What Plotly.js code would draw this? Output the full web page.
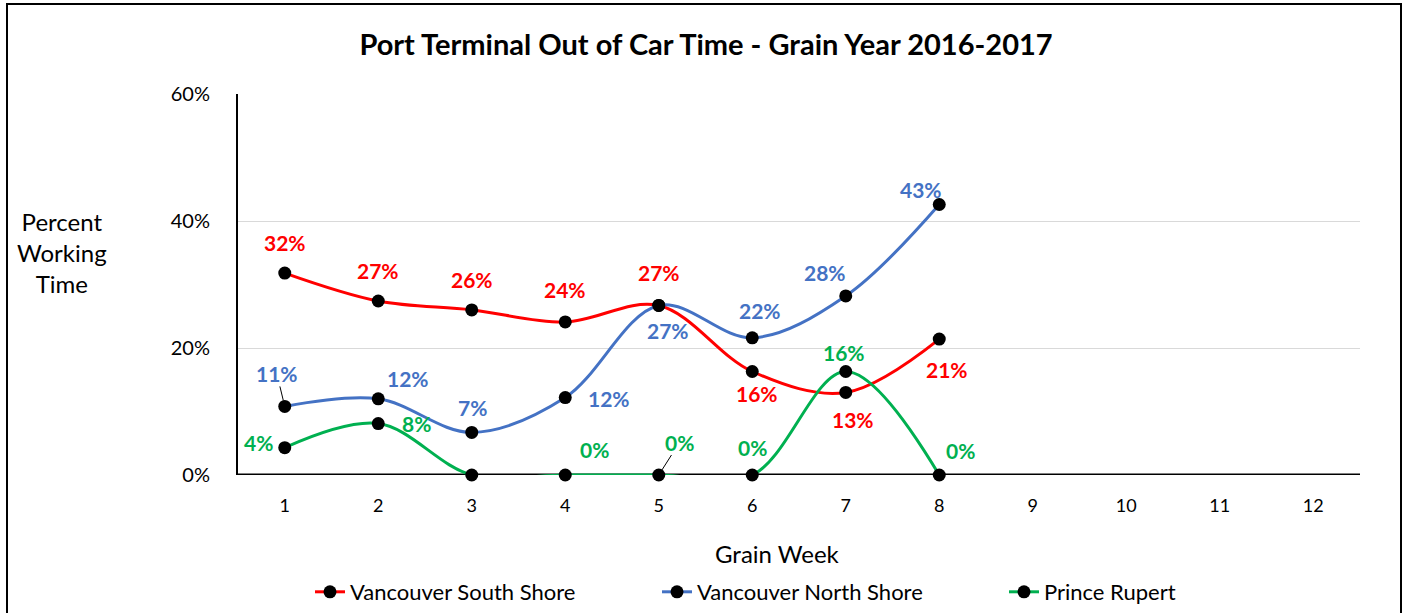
<!DOCTYPE html>
<html>
<head>
<meta charset="utf-8">
<script src="https://cdn.plot.ly/plotly-3.0.1.min.js"></script>
<style>
  html, body { margin: 0; padding: 0; background: #fff; }
  #wrap { position: relative; width: 1408px; height: 613px; overflow: hidden; }
  #chart { width: 1408px; height: 613px; }
  #frame { position: absolute; left: 6px; top: 3px; width: 1396px; height: 700px; border: 2px solid #000; pointer-events: none; box-sizing: border-box; }
</style>
</head>
<body>
<div id="wrap">
  <div id="chart"></div>
  <div id="frame"></div>
</div>
<script>
// ---- data ----
var weeks = [1, 2, 3, 4, 5, 6, 7, 8];
var tickWeeks = [1, 2, 3, 4, 5, 6, 7, 8, 9, 10, 11, 12];
var southShore = [0.318, 0.274, 0.260, 0.241, 0.267, 0.163, 0.130, 0.214];
var northShore = [0.108, 0.120, 0.067, 0.122, 0.267, 0.216, 0.282, 0.426];
var princeRupert = [0.043, 0.081, 0.0, 0.0, 0.0, 0.0, 0.163, 0.0];
var seriesNames = ["Vancouver South Shore", "Vancouver North Shore", "Prince Rupert"];
var yTicks = [0, 0.2, 0.4, 0.6];
var yTickText = ["0%", "20%", "40%", "60%"];

// ---- label placement (pixel offsets) ----
var colors = ["#FF0000", "#4472C4", "#00B050"];
var allSeries = [southShore, northShore, princeRupert];
var offsets = [
  [[0,31],[0,31],[0,30],[0,32],[0,33],[5,-22],[7,-27],[8,-30]],
  [[-8,33],[30,20],[1,25],[44,-1],[9,-25],[8,27],[-21,23],[-18,15]],
  [[-26,5],[38,0],null,[29,26],[21,33],[0,28],[-2,19],[21,25]]
];
var leaders = {"1_0": true, "2_4": true};

var font = "Lato, 'Open Sans', sans-serif";

var traces = allSeries.map(function (vals, i) {
  return {
    x: weeks, y: vals, name: seriesNames[i], type: "scatter", mode: "lines+markers",
    line: { color: colors[i], width: 3, shape: "spline", smoothing: 1 },
    marker: { color: "#000", size: 13 },
    cliponaxis: false,
    hoverinfo: "skip"
  };
});

var annotations = [];
allSeries.forEach(function (vals, i) {
  vals.forEach(function (v, j) {
    var off = offsets[i][j];
    if (!off) return;
    var txt = Math.round(v * 100) + "%";
    var a = {
      x: weeks[j], y: v, xref: "x", yref: "y", text: txt,
      font: { family: font, size: 21, color: colors[i], weight: "bold" }
    };
    if (leaders[i + "_" + j]) {
      a.showarrow = true; a.arrowhead = 0; a.arrowwidth = 1; a.arrowcolor = "#000";
      a.ax = off[0]; a.ay = -off[1]; a.standoff = 6; a.borderpad = 0;
    } else {
      a.showarrow = false; a.xshift = off[0]; a.yshift = off[1];
    }
    annotations.push(a);
  });
});

annotations.push({
  xref: "paper", yref: "paper", x: (62 - 238) / 1122, y: (475 - 252) / 381,
  xanchor: "center", yanchor: "middle",
  text: "Percent<br>Working<br>Time", showarrow: false, align: "center",
  font: { family: font, size: 24, color: "#000" }
});
annotations.push({
  xref: "paper", yref: "paper", x: (777 - 238) / 1122, y: (475 - 553) / 381,
  xanchor: "center", yanchor: "middle",
  text: "Grain Week", showarrow: false,
  font: { family: font, size: 24, color: "#000" }
});

var layout = {
  width: 1408, height: 613,
  margin: { l: 238, r: 48, t: 94, b: 138, autoexpand: false },
  paper_bgcolor: "#fff", plot_bgcolor: "#fff",
  title: {
    text: "Port Terminal Out of Car Time - Grain Year 2016-2017",
    font: { family: font, size: 29, color: "#000", weight: "bold" },
    x: (706 - 238) / 1122, xref: "paper", xanchor: "center",
    y: 1 - 45 / 613, yref: "container", yanchor: "middle"
  },
  xaxis: {
    range: [0.5, 12.5], tickvals: tickWeeks, ticktext: tickWeeks.map(String),
    showgrid: false, zeroline: false, showline: false, ticks: "",
    ticklabelstandoff: 18,
    tickfont: { family: font, size: 18, color: "#000" }
  },
  yaxis: {
    range: [0, 0.6], tickvals: yTicks, ticktext: yTickText,
    showgrid: true, gridcolor: "#D9D9D9", gridwidth: 1,
    zeroline: false, showline: true, linecolor: "#000", linewidth: 2, ticks: "",
    ticklabelstandoff: 22,
    tickfont: { family: font, size: 20, color: "#000" }
  },
  shapes: [{
    type: "line", xref: "paper", yref: "y", x0: 0, x1: 1, y0: 0, y1: 0,
    line: { color: "#000", width: 3 }, layer: "below"
  }],
  showlegend: true,
  legend: {
    orientation: "h", x: (310 - 238) / 1122, xanchor: "left",
    y: (475 - 592) / 381, yanchor: "middle",
    entrywidth: 302, entrywidthmode: "pixels",
    font: { family: font, size: 22, color: "#000" },
    bgcolor: "rgba(0,0,0,0)"
  },
  annotations: annotations
};

Plotly.newPlot("chart", traces, layout, { displayModeBar: false, staticPlot: true });
</script>
</body>
</html>
